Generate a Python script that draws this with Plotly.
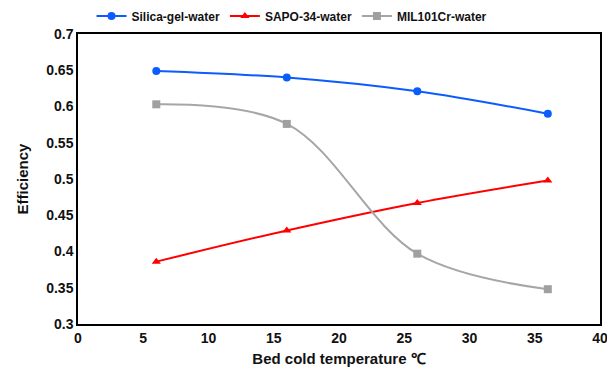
import plotly.graph_objects as go

temps = [6, 16, 26, 36]
silica = [0.649, 0.640, 0.621, 0.590]
sapo = [0.386, 0.429, 0.467, 0.498]
mil = [0.603, 0.576, 0.397, 0.348]
x_ticks = [0, 5, 10, 15, 20, 25, 30, 35, 40]
y_ticks = [0.3, 0.35, 0.4, 0.45, 0.5, 0.55, 0.6, 0.65, 0.7]
y_labels = ["0.3", "0.35", "0.4", "0.45", "0.5", "0.55", "0.6", "0.65", "0.7"]

fig = go.Figure()
fig.add_trace(go.Scatter(x=temps, y=silica, name="Silica-gel-water", mode="lines+markers",
                         line=dict(color="#0a5cff", width=2, shape="spline"),
                         marker=dict(symbol="circle", size=8, color="#0a5cff")))
fig.add_trace(go.Scatter(x=temps, y=sapo, name="SAPO-34-water", mode="lines+markers",
                         line=dict(color="#ff0000", width=2, shape="spline"),
                         marker=dict(symbol="triangle-up", size=8, color="#ff0000")))
fig.add_trace(go.Scatter(x=temps, y=mil, name="MIL101Cr-water", mode="lines+markers",
                         line=dict(color="#a6a6a6", width=2, shape="spline", smoothing=1),
                         marker=dict(symbol="square", size=8, color="#a0a0a0")))

font_family = "Arial, Liberation Sans, sans-serif"
bold = dict(family=font_family, weight="bold", color="#111111")
fig.update_layout(
    width=615, height=379,
    margin=dict(l=70, r=23, t=26, b=63, autoexpand=False),
    paper_bgcolor="white", plot_bgcolor="white",
    font=dict(family=font_family, color="#111111", size=13, weight="bold"),
    showlegend=True,
    legend=dict(orientation="h", x=0.41, xanchor="center", y=1.062, yanchor="middle",
                bgcolor="rgba(0,0,0,0)",
                font=dict(size=12, **bold),
                itemwidth=30, traceorder="normal"),
    xaxis=dict(range=[0, 40], tickvals=x_ticks, ticktext=["<b>%d</b>" % v for v in x_ticks],
               showgrid=False, zeroline=False, showline=True, linecolor="black",
               linewidth=1.5, mirror=True, ticks="",
               tickfont=dict(size=14, **bold),
               title=dict(text="Bed cold temperature ℃", standoff=9,
                          font=dict(size=15, **bold))),
    yaxis=dict(range=[0.3, 0.7], tickvals=y_ticks, ticktext=["<b>%s</b>" % s for s in y_labels],
               showgrid=False, zeroline=False, showline=True, linecolor="black",
               linewidth=1.5, mirror=True, ticks="",
               tickfont=dict(size=14, **bold),
               title=dict(text="Efficiency", standoff=14,
                          font=dict(size=15, **bold))),
)

fig.write_html("out.html")
